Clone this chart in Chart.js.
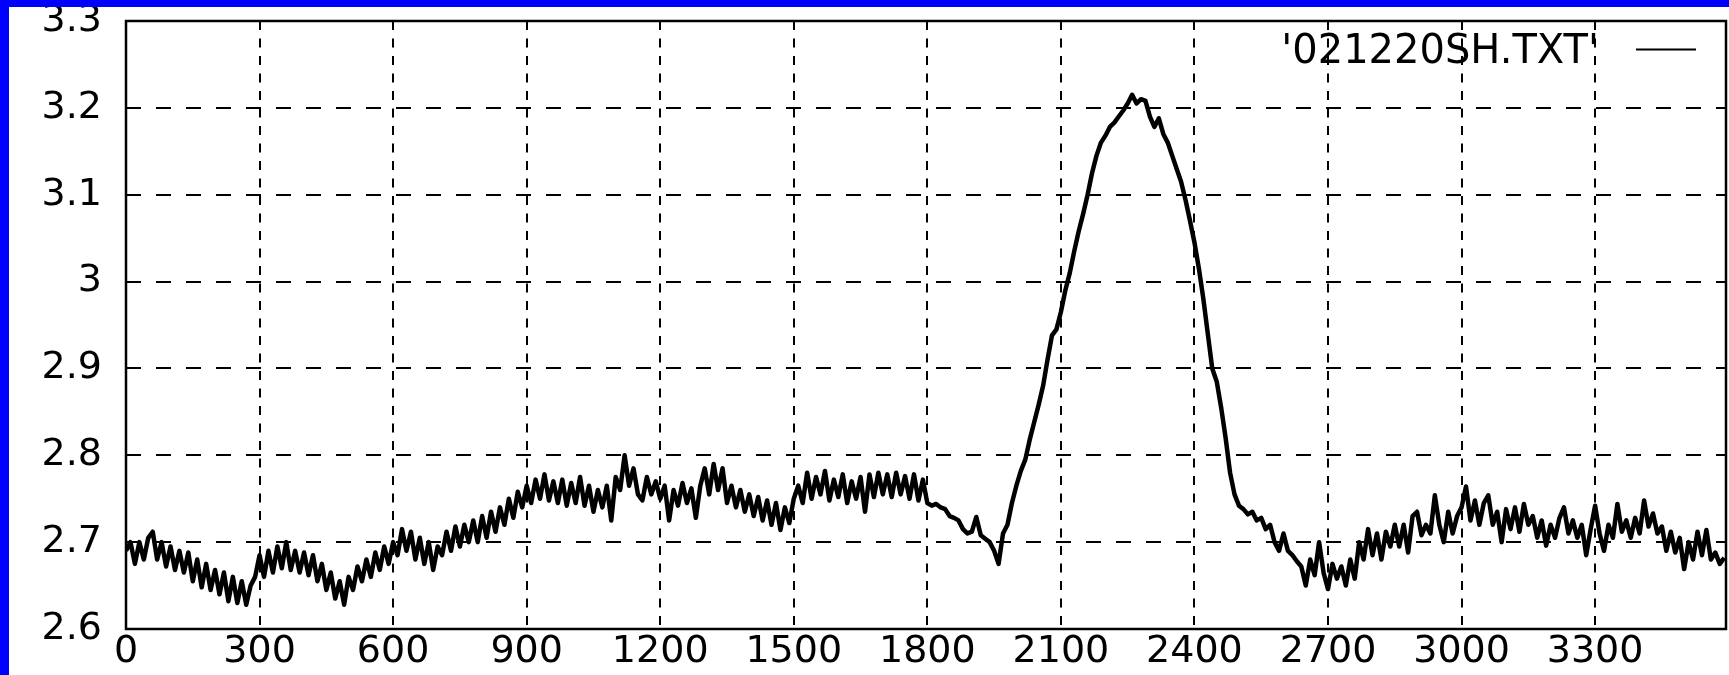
<!DOCTYPE html>
<html>
<head>
<meta charset="utf-8">
<title>021220SH.TXT</title>
<script src="https://cdn.jsdelivr.net/npm/chart.js@4.4.1/dist/chart.umd.min.js"></script>
<style>
  html, body { margin: 0; padding: 0; background: #ffffff; }
  canvas { display: block; }
</style>
</head>
<body>
<canvas id="trace_chart" width="1729" height="675"></canvas>
<script>
// Trace, one reading every 10 samples
const sampleStep = 10;
const seriesName = "'021220SH.TXT'";

const trace0000 = [2.69, 2.70, 2.675, 2.70, 2.68, 2.705, 2.712, 2.68, 2.70, 2.672,
  2.695, 2.668, 2.69, 2.665, 2.688, 2.655, 2.68, 2.648, 2.675, 2.645,
  2.668, 2.64, 2.665, 2.632, 2.66, 2.63, 2.655, 2.628, 2.65, 2.66];
const trace0300 = [2.685, 2.66, 2.69, 2.665, 2.695, 2.67, 2.70, 2.668, 2.69, 2.665,
  2.688, 2.662, 2.685, 2.655, 2.675, 2.645, 2.665, 2.635, 2.655, 2.628,
  2.66, 2.645, 2.672, 2.655, 2.68, 2.66, 2.688, 2.668, 2.695, 2.675];
const trace0600 = [2.70, 2.685, 2.715, 2.69, 2.712, 2.68, 2.705, 2.675, 2.70, 2.668,
  2.695, 2.685, 2.712, 2.69, 2.718, 2.695, 2.72, 2.70, 2.725, 2.70,
  2.73, 2.705, 2.735, 2.712, 2.74, 2.72, 2.75, 2.728, 2.758, 2.74];
const trace0900 = [2.765, 2.745, 2.772, 2.75, 2.778, 2.748, 2.77, 2.745, 2.772, 2.742,
  2.768, 2.745, 2.775, 2.742, 2.765, 2.735, 2.76, 2.74, 2.765, 2.725,
  2.775, 2.76, 2.80, 2.765, 2.785, 2.755, 2.748, 2.775, 2.755, 2.77];
const trace1200 = [2.75, 2.765, 2.725, 2.76, 2.742, 2.768, 2.745, 2.762, 2.728, 2.765,
  2.785, 2.755, 2.79, 2.76, 2.785, 2.745, 2.765, 2.74, 2.76, 2.735,
  2.755, 2.73, 2.752, 2.725, 2.748, 2.72, 2.745, 2.714, 2.74, 2.722];
const trace1500 = [2.75, 2.765, 2.745, 2.78, 2.75, 2.775, 2.755, 2.782, 2.748, 2.772,
  2.752, 2.778, 2.745, 2.77, 2.75, 2.775, 2.735, 2.778, 2.752, 2.78,
  2.755, 2.778, 2.752, 2.78, 2.755, 2.776, 2.75, 2.778, 2.748, 2.772];
const trace1800 = [2.745, 2.742, 2.744, 2.74, 2.738, 2.73, 2.728, 2.725, 2.715, 2.71,
  2.712, 2.729, 2.708, 2.704, 2.70, 2.69, 2.675, 2.71, 2.72, 2.745,
  2.765, 2.782, 2.795, 2.818, 2.838, 2.858, 2.88, 2.91, 2.938, 2.945];
const trace2100 = [2.965, 2.99, 3.01, 3.035, 3.058, 3.078, 3.10, 3.125, 3.145, 3.16,
  3.168, 3.178, 3.183, 3.19, 3.197, 3.205, 3.215, 3.205, 3.21, 3.208,
  3.19, 3.178, 3.188, 3.17, 3.16, 3.145, 3.13, 3.115, 3.094, 3.07];
const trace2400 = [3.045, 3.015, 2.98, 2.94, 2.90, 2.885, 2.855, 2.82, 2.78, 2.755,
  2.742, 2.738, 2.732, 2.735, 2.725, 2.728, 2.715, 2.72, 2.70, 2.69,
  2.71, 2.69, 2.685, 2.678, 2.672, 2.65, 2.68, 2.662, 2.70, 2.665];
const trace2700 = [2.646, 2.675, 2.658, 2.672, 2.65, 2.68, 2.658, 2.70, 2.68, 2.715,
  2.685, 2.71, 2.68, 2.712, 2.695, 2.72, 2.695, 2.72, 2.688, 2.73,
  2.735, 2.708, 2.72, 2.71, 2.754, 2.72, 2.70, 2.735, 2.71, 2.73];
const trace3000 = [2.74, 2.764, 2.725, 2.748, 2.72, 2.745, 2.754, 2.72, 2.735, 2.70,
  2.738, 2.715, 2.74, 2.712, 2.744, 2.72, 2.73, 2.705, 2.725, 2.696,
  2.72, 2.705, 2.728, 2.74, 2.71, 2.725, 2.705, 2.72, 2.685, 2.715];
const trace3300 = [2.742, 2.71, 2.69, 2.72, 2.705, 2.744, 2.712, 2.725, 2.705, 2.728,
  2.71, 2.748, 2.718, 2.733, 2.71, 2.718, 2.69, 2.712, 2.688, 2.705,
  2.669, 2.70, 2.68, 2.712, 2.685, 2.714, 2.68, 2.688, 2.675, 2.682];

const xTicks = [0, 300, 600, 900, 1200, 1500, 1800, 2100, 2400, 2700, 3000, 3300];
const xMax = 3594;
const yTicks = [2.6, 2.7, 2.8, 2.9, 3.0, 3.1, 3.2, 3.3];
const yTickLabels = ["2.6", "2.7", "2.8", "2.9", "3", "3.1", "3.2", "3.3"];

const traceValues = [].concat(trace0000, trace0300, trace0600, trace0900, trace1200, trace1500,
  trace1800, trace2100, trace2400, trace2700, trace3000, trace3300);
const tracePoints = traceValues.map((v, i) => ({ x: i * sampleStep, y: v }));

const tickFont = { family: "'DejaVu Sans', sans-serif", size: 38, lineHeight: 1 };

// Solid plot frame plus the blue window edge of the original screenshot
const framePlugin = {
  id: "frame",
  afterDraw(chart) {
    const { ctx, chartArea, width, height } = chart;
    ctx.save();
    ctx.strokeStyle = "#000000";
    ctx.lineWidth = 2.5;
    ctx.strokeRect(chartArea.left, chartArea.top,
      chartArea.right - chartArea.left, chartArea.bottom - chartArea.top);
    ctx.fillStyle = "#0000fe";
    ctx.fillRect(0, 0, width, 7);
    ctx.fillRect(0, 0, 9, height);
    ctx.restore();
  },
};

// gnuplot style key: title first, line sample after it
const keyPlugin = {
  id: "gnuplotKey",
  afterDatasetsDraw(chart) {
    const { ctx, chartArea } = chart;
    ctx.save();
    ctx.font = "40px 'DejaVu Sans', sans-serif";
    ctx.fillStyle = "#000000";
    ctx.textAlign = "right";
    ctx.textBaseline = "alphabetic";
    ctx.fillText(seriesName, chartArea.right - 127, chartArea.top + 42);
    ctx.strokeStyle = "#000000";
    ctx.lineWidth = 2;
    ctx.beginPath();
    ctx.moveTo(chartArea.right - 90, chartArea.top + 28.5);
    ctx.lineTo(chartArea.right - 30, chartArea.top + 28.5);
    ctx.stroke();
    ctx.restore();
  },
};

new Chart(document.getElementById("trace_chart"), {
  type: "line",
  data: {
    datasets: [
      {
        label: seriesName,
        data: tracePoints,
        borderColor: "#000000",
        borderWidth: 4.5,
        borderJoinStyle: "round",
        pointRadius: 0,
        tension: 0,
        fill: false,
      },
    ],
  },
  options: {
    responsive: false,
    animation: false,
    devicePixelRatio: 1,
    layout: { padding: { top: 21, right: 3, bottom: 0, left: 0 } },
    plugins: {
      legend: { display: false },
      tooltip: { enabled: false },
    },
    scales: {
      x: {
        type: "linear",
        min: 0,
        max: xMax,
        afterBuildTicks: (scale) => {
          scale.ticks = xTicks.map((v) => ({ value: v }));
        },
        afterFit: (scale) => {
          scale.height = 46;
        },
        ticks: {
          color: "#000000",
          font: tickFont,
          padding: 4,
          maxRotation: 0,
          autoSkip: false,
          callback: (value) => String(value),
        },
        grid: { color: "#000000", lineWidth: 2, drawTicks: false },
        border: { display: false, dash: [9, 8.5] },
      },
      y: {
        min: 2.6,
        max: 3.3,
        afterBuildTicks: (scale) => {
          scale.ticks = yTicks.map((v) => ({ value: v }));
        },
        afterFit: (scale) => {
          scale.width = 126;
        },
        ticks: {
          color: "#000000",
          font: tickFont,
          padding: 0,
          autoSkip: false,
          callback: (value, index) => yTickLabels[index],
        },
        grid: { color: "#000000", lineWidth: 2, drawTicks: true, tickLength: 24, tickWidth: 0 },
        border: { display: false, dash: [15, 15] },
      },
    },
  },
  plugins: [keyPlugin, framePlugin],
});
</script>
</body>
</html>
